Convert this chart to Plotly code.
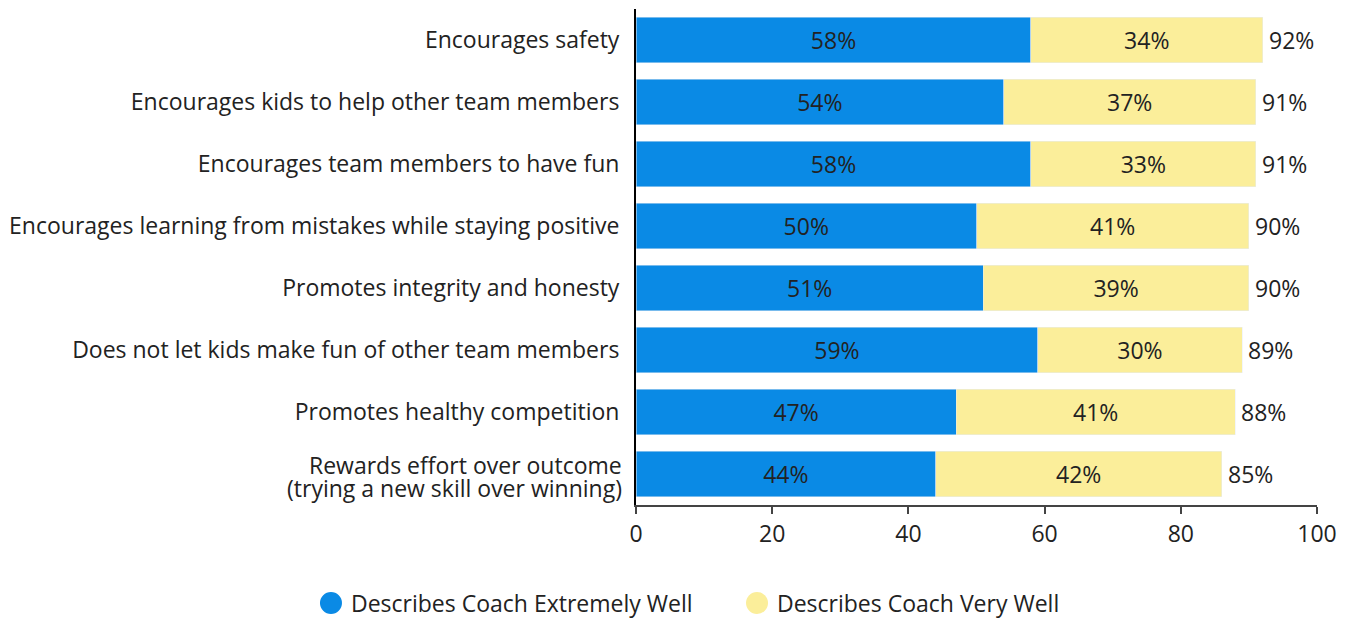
import plotly.graph_objects as go

categories = [
    "Encourages safety",
    "Encourages kids to help other team members",
    "Encourages team members to have fun",
    "Encourages learning from mistakes while staying positive",
    "Promotes integrity and honesty",
    "Does not let kids make fun of other team members",
    "Promotes healthy competition",
    "Rewards effort over outcome (trying a new skill over winning)",
]
# the long last label is drawn on two tight lines
label_lines = {
    "Rewards effort over outcome (trying a new skill over winning)":
        ["Rewards effort over outcome", "(trying a new skill over winning)"],
}
extremely_well = [58, 54, 58, 50, 51, 59, 47, 44]
very_well = [34, 37, 33, 40, 39, 30, 41, 42]
very_well_labels = [34, 37, 33, 41, 39, 30, 41, 42]
totals = [92, 91, 91, 90, 90, 89, 88, 85]
x_ticks = [0, 20, 40, 60, 80, 100]
series_names = ["Describes Coach Extremely Well", "Describes Coach Very Well"]

BLUE = "#0a8ae5"
YELLOW = "#fbee9a"
TEXT = "#222222"
FONT = "Open Sans"
FS = 23

fig = go.Figure()
fig.add_trace(go.Bar(
    y=categories, x=extremely_well, orientation="h", marker_color=BLUE,
    name=series_names[0],
    text=[f"{v}%" for v in extremely_well], textposition="inside",
    insidetextanchor="middle", textangle=0, constraintext="none",
    textfont=dict(color=TEXT, size=FS, family=FONT),
    showlegend=False, hoverinfo="skip",
))
fig.add_trace(go.Bar(
    y=categories, x=very_well, orientation="h", marker_color=YELLOW,
    name=series_names[1],
    text=[f"{v}%" for v in very_well_labels], textposition="inside",
    insidetextanchor="middle", textangle=0, constraintext="none",
    textfont=dict(color=TEXT, size=FS, family=FONT),
    showlegend=False, hoverinfo="skip",
))
for cat, a, b, t in zip(categories, extremely_well, very_well, totals):
    fig.add_annotation(x=a + b, y=cat, text=f"{t}%", showarrow=False,
                       xanchor="left", xshift=4,
                       font=dict(color=TEXT, size=FS, family=FONT))

ticktext = []
for cat in categories:
    if cat in label_lines:
        ticktext.append("")
        for i, line in enumerate(label_lines[cat]):
            fig.add_annotation(xref="paper", x=0, y=cat, text=line, showarrow=False,
                               xanchor="right", xshift=-12, yshift=9 - 23 * i,
                               font=dict(color=TEXT, size=FS, family=FONT))
    else:
        ticktext.append(cat)

# legend drawn below the chart: circle swatch + label (in paper coords of plot area)
legend_y = -0.1976
for name, color, cx in zip(series_names, [BLUE, YELLOW], [-0.4479, 0.1777]):
    fig.add_shape(type="circle", xref="paper", yref="paper",
                  xsizemode="pixel", ysizemode="pixel",
                  xanchor=cx, yanchor=legend_y, x0=-11, x1=11, y0=-11, y1=11,
                  fillcolor=color, line_width=0)
    fig.add_annotation(xref="paper", yref="paper", x=cx, y=legend_y, text=name,
                       showarrow=False, xanchor="left", yanchor="middle", xshift=18,
                       font=dict(color=TEXT, size=FS, family=FONT))

fig.update_layout(
    barmode="stack", bargap=0.27,
    width=1346, height=618,
    margin=dict(l=636, r=29, t=9, b=113),
    paper_bgcolor="white", plot_bgcolor="white",
    font=dict(family=FONT, size=FS, color=TEXT),
    showlegend=False,
)
fig.update_yaxes(autorange="reversed", showline=True, linecolor="black", linewidth=2,
                 ticks="", ticklabelstandoff=10, showgrid=False,
                 tickvals=categories, ticktext=ticktext,
                 tickfont=dict(size=FS, color=TEXT, family=FONT))
fig.update_xaxes(range=[0, 100], tickvals=x_ticks, showline=True, linecolor="#444444",
                 linewidth=2, ticks="outside", ticklen=7, tickcolor="#444444", tickwidth=2,
                 showgrid=False, zeroline=False,
                 tickfont=dict(size=FS, color=TEXT, family=FONT))

fig.write_html("out.html", config={"displayModeBar": False},
               post_script="document.body.style.margin='0';")
